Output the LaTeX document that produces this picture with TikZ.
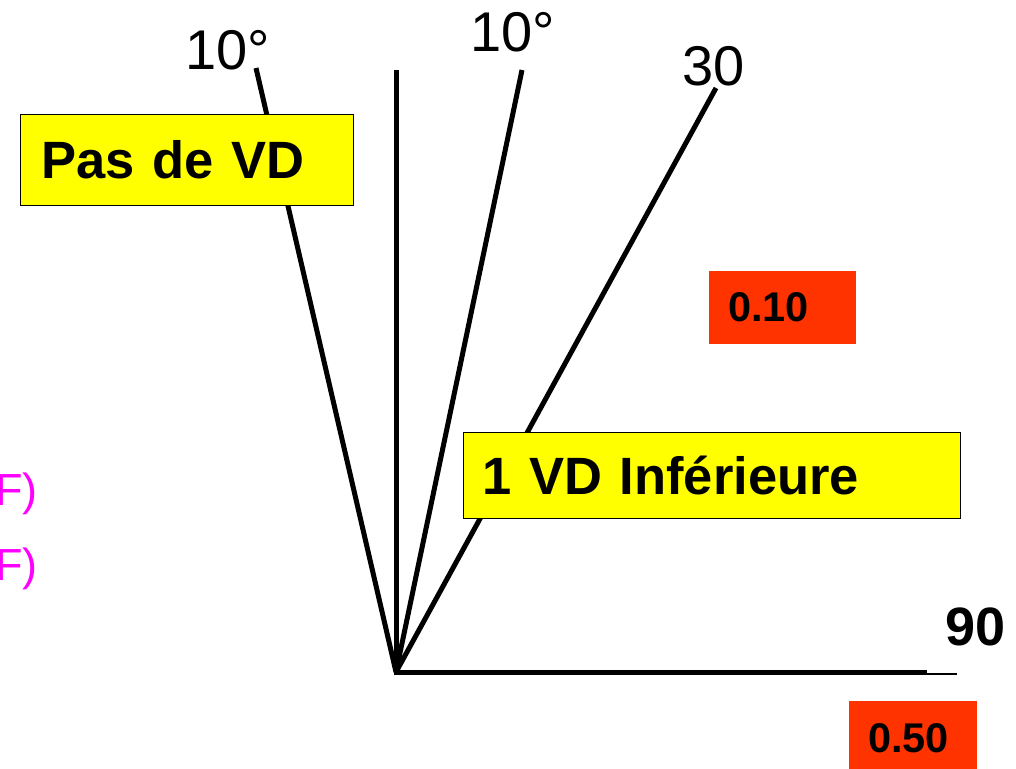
\documentclass[tikz,border=0pt]{standalone}
\usepackage{fontspec}
\setmainfont{Liberation Sans}
\definecolor{boxyellow}{HTML}{FFFF00}
\definecolor{boxred}{HTML}{FF3300}
\definecolor{mag}{HTML}{FF00FF}
\begin{document}
\begin{tikzpicture}[x=1pt,y=-1pt,
  ray/.style={line width=5pt},
  lbl/.style={anchor=base west,inner sep=0pt,font=\fontsize{56}{60}\selectfont},
  ybox/.style={draw=black,line width=1.3pt,fill=boxyellow,anchor=north west,align=left,
     font=\bfseries\fontsize{52.5}{56}\selectfont,inner ysep=0pt},
  rbox/.style={fill=boxred,anchor=north west,align=left,
     font=\bfseries\fontsize{41.5}{44}\selectfont,inner ysep=0pt},
  ftxt/.style={anchor=base west,inner sep=0pt,text=mag,font=\fontsize{45}{50}\selectfont}]
\useasboundingbox (0,0) rectangle (1016,768);
\clip (0,0) rectangle (1016,768);
% rays
\coordinate (O) at (396,672);
\coordinate (L) at (256,68);
\coordinate (V) at (396,70);
\coordinate (M) at (522,70);
\coordinate (T) at (716,88);
\coordinate (H) at (924,672);
\coordinate (H1) at (924,674);
\coordinate (H2) at (957,674);
\draw[ray] (O) -- (L);
\draw[ray] (O) -- (V);
\draw[ray] (O) -- (M);
\draw[ray] (O) -- (T);
\draw[ray,line cap=rect] (O) -- (H);
\draw[line width=1.3pt] (H1) -- (H2);
% labels
\node[lbl] (l1) at (185,70) {10°};
\node[lbl] (l2) at (470,52) {10°};
\node[lbl] (l3) at (682,85) {30};
\node[lbl,font=\bfseries\fontsize{54}{58}\selectfont] (l4) at (945,645) {90};
% boxes
\node[ybox,minimum width=333pt,minimum height=91pt,text width=291pt,inner xsep=21pt] (pas) at (20,114) {Pas de VD};
\node[ybox,minimum width=497pt,minimum height=86pt,text width=459pt,inner xsep=19pt] (inf) at (463,432) {1 VD Inférieure};
\node[rbox,minimum width=147pt,minimum height=73pt,text width=109pt,inner xsep=19pt] (r1) at (709,271) {0.10};
\node[rbox,minimum width=128pt,minimum height=75pt,text width=90pt,inner xsep=19pt] (r2) at (849,701) {0.50};
% magenta partial texts (cut off at the left edge, as in the reference)
\node[ftxt] (f1) at (-5,505) {F)};
\node[ftxt] (f2) at (-5,580) {F)};
\end{tikzpicture}
\end{document}
